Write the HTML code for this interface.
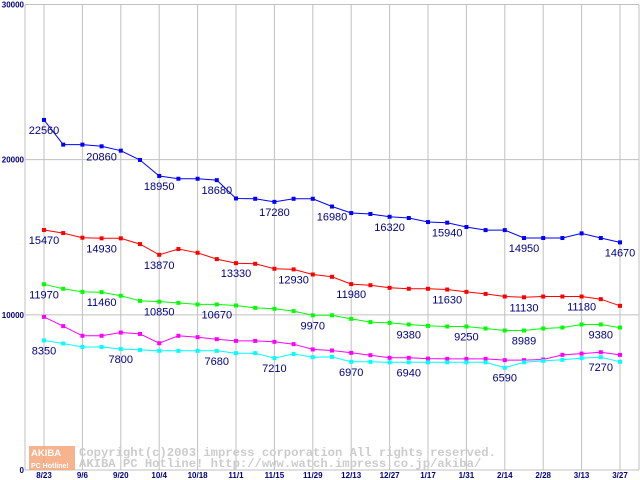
<!DOCTYPE html>
<html><head><meta charset="utf-8"><style>
body{margin:0;background:#fff;width:640px;height:480px;overflow:hidden}
svg{display:block}
</style></head><body>
<svg id="chart" width="640" height="480" xmlns="http://www.w3.org/2000/svg" font-family="Liberation Sans, sans-serif"></svg>
<script>
const xLabels=["8/23","9/6","9/20","10/4","10/18","11/1","11/15","11/29","12/13","12/27","1/17","1/31","2/14","2/28","3/13","3/27"];
const yTicks=[0,10000,20000,30000];
const blue=[22560,20970,20970,20860,20580,19980,18950,18770,18770,18680,17500,17480,17280,17480,17480,16980,16560,16500,16320,16240,15980,15940,15660,15460,15460,14950,14950,14950,15250,14950,14670];
const red=[15470,15270,14970,14930,14930,14560,13870,14240,14000,13590,13330,13290,12970,12930,12600,12450,11980,11910,11740,11680,11680,11630,11480,11350,11180,11130,11180,11180,11180,11010,10580];
const green=[11970,11680,11480,11460,11230,10900,10850,10770,10670,10670,10600,10450,10390,10240,9970,9970,9740,9530,9480,9380,9290,9250,9250,9120,8990,8989,9120,9180,9380,9380,9180];
const magenta=[9870,9270,8650,8650,8860,8770,8170,8650,8560,8430,8320,8320,8260,8110,7770,7700,7550,7400,7230,7230,7180,7160,7160,7160,7080,7080,7120,7420,7500,7590,7420];
const cyan=[8350,8150,7930,7930,7800,7740,7680,7680,7680,7680,7530,7530,7210,7480,7270,7290,6970,6970,6940,6940,6940,6940,6940,6940,6590,6940,7030,7100,7210,7270,6970];
const blueLabelIdx=[0,3,6,9,12,15,18,21,25,30];
const redLabelIdx=[0,3,6,10,13,16,21,25,28];
const greenLabelIdx=[0,3,6,9,14,19,22,25,29];
const cyanLabelIdx=[0,4,9,12,16,19,24,29];

const NS="http://www.w3.org/2000/svg";
const svg=document.getElementById('chart');
const X0=25,XR=639,Y0=470,YT=4.5;
const xs=i=>44+i*19.2;
const ys=v=>Y0-(v/30000)*(Y0-YT);
function el(t,a){const e=document.createElementNS(NS,t);for(const k in a)e.setAttribute(k,a[k]);svg.appendChild(e);return e;}

for(let i=0;i<xLabels.length;i++){
  const l=el('line',{x1:xs(2*i),x2:xs(2*i),y1:YT,y2:Y0,stroke:'#c0c0c0','stroke-width':1});
  
  
  const t=el('text',{x:xs(2*i),y:478,'text-anchor':'middle','font-size':8,'font-weight':'bold',fill:'#000080'});
  t.textContent=xLabels[i];
  
  
}
for(const v of yTicks){
  const l=el('line',{x1:X0,x2:XR,y1:ys(v),y2:ys(v),stroke:'#c0c0c0','stroke-width':1});
  
  
  const t=el('text',{x:24,y:ys(v)+3,'text-anchor':'end','font-size':8,'font-weight':'bold',fill:'#000080'});
  t.textContent=String(v);
  
  
}
const ax=el('line',{x1:X0,x2:X0,y1:YT,y2:Y0,stroke:'#c0c0c0'});


const rb=el('line',{x1:XR,x2:XR,y1:YT,y2:Y0,stroke:'#c0c0c0'});



const logo=el('rect',{x:29,y:446,width:46,height:24,fill:'#f4a070',opacity:0.8});


const lt1=el('text',{x:31,y:456,'font-size':9.5,'font-weight':'bold',fill:'#fff'});lt1.textContent='AKIBA';


const lt2=el('text',{x:31,y:468,'font-size':7,'font-weight':'bold',fill:'#fff'});lt2.textContent='PC Hotline!';


const w1=el('text',{x:79,y:456,'font-size':12.2,'font-family':'Liberation Mono, monospace','font-weight':'bold',fill:'#cccccc'});
w1.textContent='Copyright(c)2003 impress corporation All rights reserved.';


const w2=el('text',{x:79,y:467,'font-size':12.2,'font-family':'Liberation Mono, monospace','font-weight':'bold',fill:'#cccccc'});
w2.textContent='AKIBA PC Hotline!  http://www.watch.impress.co.jp/akiba/';



function series(data,color,name,labels){
  const pts=data.map((v,i)=>xs(i).toFixed(1)+','+ys(v).toFixed(1)).join(' ');
  const p=el('polyline',{points:pts,fill:'none',stroke:color,'stroke-width':1});
  
  
  data.forEach((v,i)=>{
    const r=el('rect',{x:xs(i)-2,y:ys(v)-2,width:4,height:4,fill:color});
    
    
  });
  labels.forEach(i=>{
    const t=el('text',{x:xs(i),y:ys(data[i])+14,'text-anchor':'middle','font-size':11,fill:'#000080'});
    t.textContent=String(data[i]);
    
    
  });
}
series(blue,'#0000ff','blue-series',blueLabelIdx);
series(red,'#ff0000','red-series',redLabelIdx);
series(green,'#00ff00','green-series',greenLabelIdx);
series(magenta,'#ff00ff','magenta-series',[]);
series(cyan,'#00ffff','cyan-series',cyanLabelIdx);
</script>
</body></html>
